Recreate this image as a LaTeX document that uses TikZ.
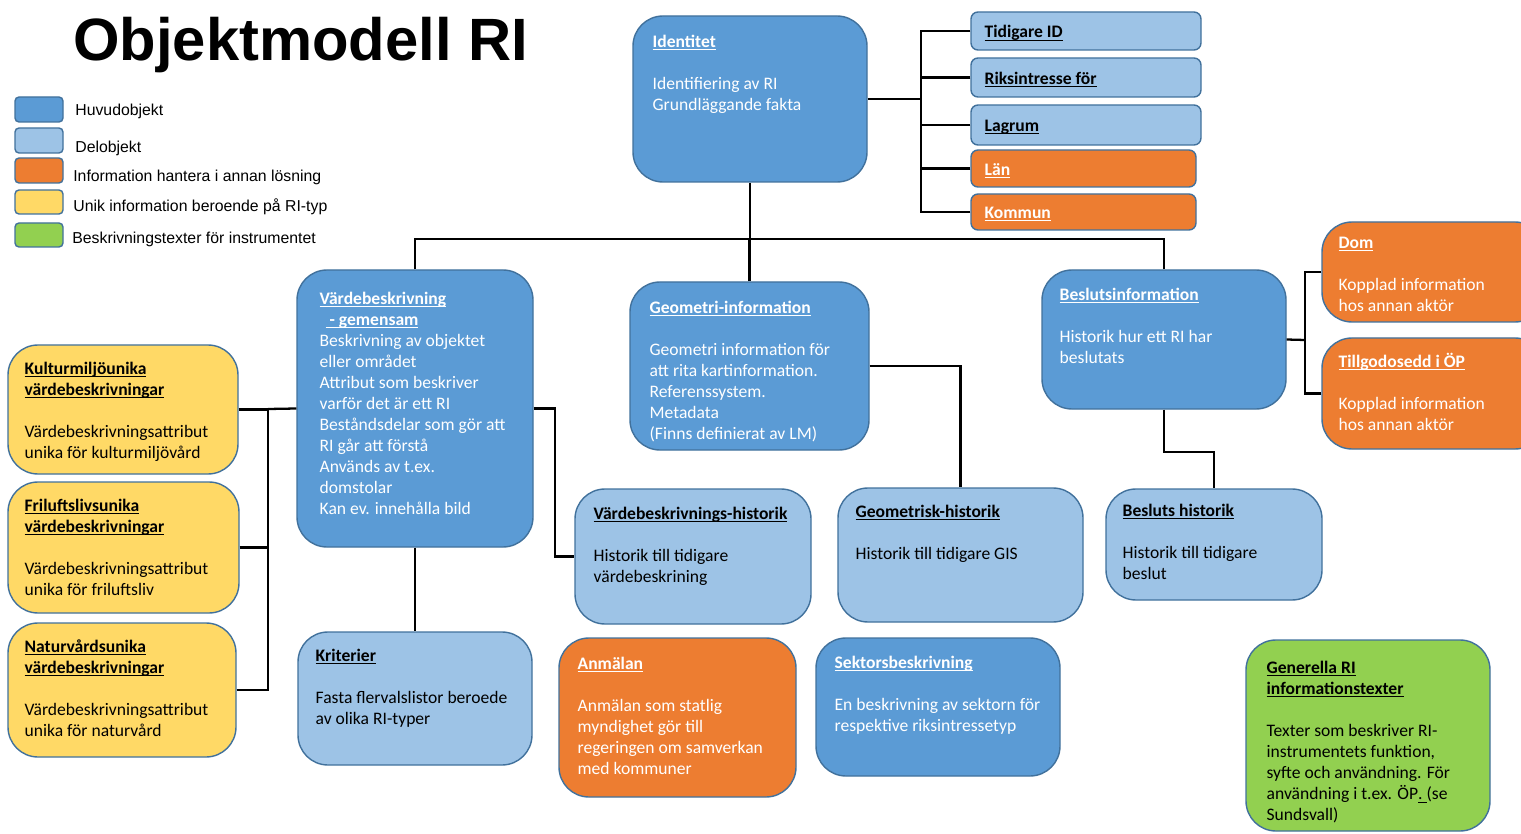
\documentclass[tikz,border=0pt]{standalone}
\usepackage{fontspec}
\setmainfont{Carlito}
\newfontfamily\arialfont{Liberation Sans}
\usetikzlibrary{positioning,fit}
\definecolor{huvud}{RGB}{91,155,213}
\definecolor{delobj}{RGB}{157,195,230}
\definecolor{annan}{RGB}{237,125,49}
\definecolor{unik}{RGB}{255,217,102}
\definecolor{besk}{RGB}{146,208,80}
\definecolor{kant}{RGB}{65,113,156}
% rubrik: fet och understruken
\newcommand{\hd}[1]{\textbf{\setbox0\hbox{#1}\rlap{\rule[-1.6pt]{\wd0}{0.6pt}}\box0}}

\begin{document}
\begin{tikzpicture}[
    x=0.02cm, y=-0.02cm,
    every node/.style={font=\fontsize{10}{12}\selectfont},
    obj/.style={draw=kant, line width=0.8pt, rounded corners=0.6cm, inner sep=0pt},
    smallobj/.style={draw=kant, line width=0.8pt, rounded corners=0.14cm, inner sep=0pt},
    legbox/.style={draw=kant, line width=0.8pt, rounded corners=0.08cm, inner sep=0pt},
    txt/.style={align=left, inner sep=0pt, yshift=-1.2pt},
    vittxt/.style={txt, text=white},
    svarttxt/.style={txt, text=black},
    legtxt/.style={anchor=west, inner sep=0pt, yshift=-1pt, font=\arialfont\fontsize{9}{11}\selectfont},
    conn/.style={line width=1.3pt},
]
\useasboundingbox (0,0) rectangle (1521,834);

% Titel
\node[font=\arialfont\bfseries\fontsize{34}{40}\selectfont, anchor=base west, inner sep=0pt] (titel) at (73,61) {Objektmodell RI};

% Teckenforklaring
\node[legbox, fill=huvud, fit={(15,97)(63,122)}] (lg-huvud) {};
\node[legbox, fill=delobj, fit={(15,128)(63,153)}] (lg-del) {};
\node[legbox, fill=annan, fit={(15,158)(63,183)}] (lg-annan) {};
\node[legbox, fill=unik, fit={(15,190)(63,214)}] (lg-unik) {};
\node[legbox, fill=besk, fit={(15,223)(63,247)}] (lg-besk) {};
\node[legtxt] (lg-huvud-t) at (75,110) {Huvudobjekt};
\node[legtxt] (lg-del-t) at (75,147) {Delobjekt};
\node[legtxt] (lg-annan-t) at (73,176) {Information hantera i annan lösning};
\node[legtxt] (lg-unik-t) at (73,205) {Unik information beroende på RI-typ};
\node[legtxt] (lg-besk-t) at (72,238) {Beskrivningstexter för instrumentet};

% Identitet med delobjekt
\node[obj, fill=huvud, fit={(633,16)(867,182)}] (ident) {};
\node[vittxt, below right=0.34cm and 0.4cm of ident.north west] (ident-t) {\hd{Identitet}\\[12pt]Identifiering av RI\\Grundläggande fakta};

\node[smallobj, fill=delobj, fit={(971,12)(1201,50)}] (tid) {};
\node[smallobj, fill=delobj, fit={(971,58)(1201,97)}] (riks) {};
\node[smallobj, fill=delobj, fit={(971,105)(1201,145)}] (lag) {};
\node[smallobj, fill=annan, fit={(971,150)(1196,187)}] (lan) {};
\node[smallobj, fill=annan, fit={(971,194)(1196,230)}] (kom) {};
\node[svarttxt, right=0.28cm of tid.west] (tid-t) {\hd{Tidigare ID}};
\node[svarttxt, right=0.28cm of riks.west] (riks-t) {\hd{Riksintresse för}};
\node[svarttxt, right=0.28cm of lag.west] (lag-t) {\hd{Lagrum}};
\node[vittxt, right=0.28cm of lan.west] (lan-t) {\hd{Län}};
\node[vittxt, right=0.28cm of kom.west] (kom-t) {\hd{Kommun}};

% Andra raden
\node[obj, fill=huvud, fit={(297,270)(533,547)}] (vard) {};
\node[vittxt, below right=0.4cm and 0.46cm of vard.north west] (vard-t) {\hd{Värdebeskrivning}\\
    \hspace*{0.12cm}\hd{\ - gemensam}\\
    Beskrivning av objektet\\
    eller området\\
    Attribut som beskriver\\
    varför det är ett RI\\
    Beståndsdelar som gör att\\
    RI går att förstå\\
    Används av t.ex.\\
    domstolar\\
    Kan ev. innehålla bild};

\node[obj, fill=huvud, fit={(630,282)(869,450)}] (geo) {};
\node[vittxt, below right=0.34cm and 0.4cm of geo.north west] (geo-t) {\hd{Geometri-information}\\[12pt]
    Geometri information för\\
    att rita kartinformation.\\
    Referenssystem.\\
    Metadata\\
    (Finns definierat av LM)};

\node[obj, fill=huvud, fit={(1042,270)(1286,409)}] (beslut) {};
\node[vittxt, below right=0.32cm and 0.36cm of beslut.north west] (beslut-t) {\hd{Beslutsinformation}\\[12pt]Historik hur ett RI har\\beslutats};

\node[obj, fill=annan, fit={(1322,222)(1545,322)}] (dom) {};
\node[vittxt, below right=0.26cm and 0.34cm of dom.north west] (dom-t) {\hd{Dom}\\[12pt]Kopplad information\\hos annan aktör};

\node[obj, fill=annan, fit={(1322,338)(1545,449)}] (tillg) {};
\node[vittxt, below right=0.26cm and 0.34cm of tillg.north west] (tillg-t) {\hd{Tillgodosedd i ÖP}\\[12pt]Kopplad information\\hos annan aktör};

% Unika vardebeskrivningar
\node[obj, fill=unik, fit={(8,345)(238,474)}] (kult) {};
\node[svarttxt, below right=0.3cm and 0.34cm of kult.north west] (kult-t) {\hd{Kulturmiljöunika}\\\hd{värdebeskrivningar}\\[12pt]Värdebeskrivningsattribut\\unika för kulturmiljövård};

\node[obj, fill=unik, fit={(8,482)(239,613)}] (fril) {};
\node[svarttxt, below right=0.3cm and 0.34cm of fril.north west] (fril-t) {\hd{Friluftslivsunika}\\\hd{värdebeskrivningar}\\[12pt]Värdebeskrivningsattribut\\unika för friluftsliv};

\node[obj, fill=unik, fit={(8,623)(236,757)}] (natur) {};
\node[svarttxt, below right=0.3cm and 0.34cm of natur.north west] (natur-t) {\hd{Naturvårdsunika}\\\hd{värdebeskrivningar}\\[12pt]Värdebeskrivningsattribut\\unika för naturvård};

% Historik
\node[obj, fill=delobj, fit={(575,489)(811,624)}] (vhist) {};
\node[svarttxt, below right=0.32cm and 0.38cm of vhist.north west] (vhist-t) {\hd{Värdebeskrivnings-historik}\\[12pt]Historik till tidigare\\värdebeskrining};

\node[obj, fill=delobj, fit={(838,488)(1083,622)}] (ghist) {};
\node[svarttxt, below right=0.3cm and 0.36cm of ghist.north west] (ghist-t) {\hd{Geometrisk-historik}\\[12pt]Historik till tidigare GIS};

\node[obj, fill=delobj, fit={(1106,489)(1322,600)}] (bhist) {};
\node[svarttxt, below right=0.26cm and 0.34cm of bhist.north west] (bhist-t) {\hd{Besluts historik}\\[12pt]Historik till tidigare\\beslut};

% Nedersta raden
\node[obj, fill=delobj, fit={(298,632)(532,765)}] (krit) {};
\node[svarttxt, below right=0.3cm and 0.36cm of krit.north west] (krit-t) {\hd{Kriterier}\\[12pt]Fasta flervalslistor beroede\\av olika RI-typer};

\node[obj, fill=annan, fit={(559,638)(796,797)}] (anm) {};
\node[vittxt, below right=0.34cm and 0.38cm of anm.north west] (anm-t) {\hd{Anmälan}\\[12pt]Anmälan som statlig\\myndighet gör till\\regeringen om samverkan\\med kommuner};

\node[obj, fill=huvud, fit={(816,638)(1060,776)}] (sekt) {};
\node[vittxt, below right=0.32cm and 0.38cm of sekt.north west] (sekt-t) {\hd{Sektorsbeskrivning}\\[12pt]En beskrivning av sektorn för\\respektive riksintressetyp};

\node[obj, fill=besk, fit={(1246,640)(1490,831)}] (gen) {};
\node[svarttxt, below right=0.38cm and 0.42cm of gen.north west] (gen-t) {\hd{Generella RI}\\\hd{informationstexter}\\[12pt]
    Texter som beskriver RI-\\
    instrumentets funktion,\\
    syfte och användning. För\\
    användning i t.ex. ÖP\underline{.\ }(se\\
    Sundsvall)};

% Kopplingar
\coordinate (idbus) at (921,99);
\coordinate (topbus) at (750,239);
\coordinate (besbus) at (1305,340);
\coordinate (vardbus) at (268,409);

\draw[conn] (ident.east) -- (idbus);
\foreach \n in {tid,riks,lag,lan,kom}
    \draw[conn] (\n.west) -| (idbus);

\draw[conn] (ident.south) -- (topbus);
\foreach \n in {vard,geo,beslut}
    \draw[conn] (\n.north) |- (topbus);

\draw[conn] (beslut.east) -- (besbus);
\foreach \n in {dom,tillg}
    \draw[conn] (\n.west) -| (besbus);
\draw[conn] (beslut.south) -- ++(0,42) -| (bhist.north);

\draw[conn] (geo.east) -| (ghist.north);

\draw[conn] (vard.east) -- ++(21,0) |- (vhist.west);
\draw[conn] (vard.south) -- (krit.north);
\draw[conn] (vard.west) -- (vardbus);
\foreach \n in {kult,fril,natur}
    \draw[conn] (\n.east) -| (vardbus);

\end{tikzpicture}
\end{document}
